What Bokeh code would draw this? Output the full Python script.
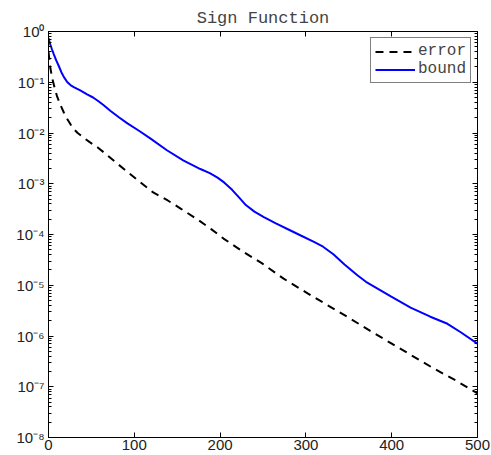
from bokeh.plotting import figure
from bokeh.models import (LogAxis, LinearAxis, FixedTicker, Legend, LegendItem, Range1d)
from bokeh.embed import file_html
from bokeh.resources import INLINE

# ---- data ----
err_x = [0, 2, 4, 7, 10, 14, 18, 22, 26, 30, 34, 40, 48, 57, 68, 80, 107, 122, 139,
         154, 175, 190, 204, 225, 249, 274, 302, 325, 350, 375, 400, 425, 449, 475, 500]
err_y = [0.398, 0.200, 0.126, 0.0794, 0.0525, 0.0355, 0.0251, 0.0186, 0.0145, 0.0117,
         0.0100, 0.00832, 0.00661, 0.00525, 0.00372, 0.00251, 0.00107, 6.76e-4,
         4.68e-4, 3.24e-4, 1.91e-4, 1.26e-4, 8.32e-5, 4.79e-5, 2.69e-5, 1.35e-5,
         6.92e-6, 4.07e-6, 2.29e-6, 1.26e-6, 7.08e-7, 3.98e-7, 2.29e-7, 1.32e-7, 7.41e-8]

bnd_x = [0, 2, 4, 6, 9, 12, 15, 18, 22, 26, 30, 37, 45, 52, 57, 64, 72, 82, 92, 105,
         119, 138, 157, 177, 188, 197, 205, 214, 222, 230, 240, 251, 265, 282, 294,
         310, 320, 332, 345, 360, 370, 383, 399, 422, 445, 465, 480, 500]
bnd_y = [0.741, 0.562, 0.447, 0.363, 0.269, 0.209, 0.158, 0.126, 0.100, 0.0871,
         0.0794, 0.0692, 0.0575, 0.0501, 0.0437, 0.0355, 0.0275, 0.0204, 0.0155,
         0.0112, 0.00776, 0.00457, 0.00288, 0.00195, 0.00162, 0.00132, 0.00105,
         7.59e-4, 5.37e-4, 3.80e-4, 2.82e-4, 2.19e-4, 1.66e-4, 1.20e-4, 9.55e-5,
         7.08e-5, 5.75e-5, 4.07e-5, 2.57e-5, 1.58e-5, 1.17e-5, 8.71e-6, 6.03e-6,
         3.63e-6, 2.40e-6, 1.74e-6, 1.20e-6, 7.08e-7]

x_ticks = [0, 100, 200, 300, 400, 500]
y_ticks = [1e-8, 1e-7, 1e-6, 1e-5, 1e-4, 1e-3, 1e-2, 1e-1, 1.0]
y_tick_labels = ["10⁻⁸", "10⁻⁷", "10⁻⁶", "10⁻⁵", "10⁻⁴", "10⁻³", "10⁻²", "10⁻¹", "10⁰"]
series_names = ["error", "bound"]
title_text = "Sign Function"

minor_y = [m * t for t in y_ticks[:-1] for m in range(2, 10)]

TICK_FONT = "Liberation Sans"
MONO = "Liberation Mono"

p = figure(width=491, height=455, output_backend="svg", toolbar_location=None,
           y_axis_type="log", x_range=Range1d(0, 500), y_range=Range1d(1e-8, 1),
           min_border_left=48, min_border_right=14, min_border_top=31,
           min_border_bottom=18, title=title_text)

p.title.text_font = MONO
p.title.text_font_size = "17px"
p.title.text_font_style = "normal"
p.title.align = "center"
p.title.standoff = 8
p.title.offset = 0

p.xgrid.visible = False
p.ygrid.visible = False
p.outline_line_color = "black"
p.outline_line_width = 1
p.background_fill_color = "white"
p.border_fill_color = "white"

xt = FixedTicker(ticks=x_ticks, minor_ticks=[])
yt = FixedTicker(ticks=y_ticks, minor_ticks=minor_y)


def style_axis(ax):
    ax.axis_line_color = "black"
    ax.major_tick_line_color = "black"
    ax.minor_tick_line_color = "black"
    ax.major_tick_in = 5
    ax.major_tick_out = 0
    ax.minor_tick_in = 3
    ax.minor_tick_out = 0
    ax.major_label_text_font = TICK_FONT
    ax.major_label_text_font_size = "15px"
    ax.major_label_text_color = "#222222"


xa = p.xaxis[0]
xa.ticker = xt
style_axis(xa)
xa.major_label_standoff = 2

ya = p.yaxis[0]
ya.ticker = yt
style_axis(ya)
ya.major_label_standoff = 4
ya.major_label_overrides = {v: s for v, s in zip(y_ticks, y_tick_labels)}

top = LinearAxis(ticker=xt)
style_axis(top)
top.major_label_overrides = {v: "" for v in x_ticks}
top.major_label_standoff = 0
p.add_layout(top, "above")

right = LogAxis(ticker=yt)
style_axis(right)
right.major_label_overrides = {v: "" for v in y_ticks}
right.major_label_standoff = 0
p.add_layout(right, "right")

r_err = p.line(err_x, err_y, line_color="black", line_width=2, line_dash="8 6")
r_bnd = p.line(bnd_x, bnd_y, line_color="#0000ff", line_width=2)

legend = Legend(items=[LegendItem(label=series_names[0], renderers=[r_err]),
                       LegendItem(label=series_names[1], renderers=[r_bnd])],
                location="top_right", margin=6, padding=4, spacing=0,
                label_standoff=3, glyph_width=40, glyph_height=17, label_height=17,
                border_line_color="black", border_line_width=1,
                label_text_font=MONO, label_text_font_size="16px",
                background_fill_color="white", background_fill_alpha=1)
p.add_layout(legend)

open("out.html", "w").write(file_html(p, INLINE))
